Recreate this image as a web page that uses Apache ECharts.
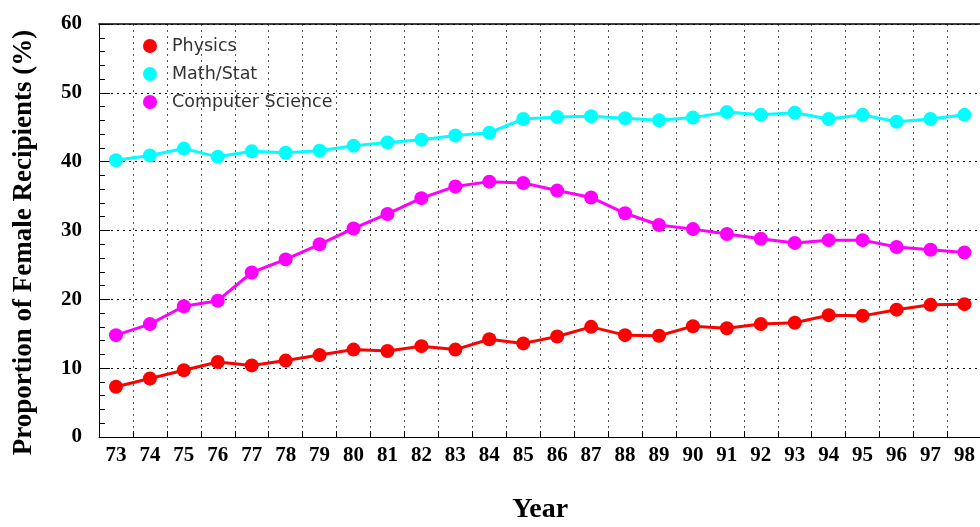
<!DOCTYPE html>
<html>
<head>
<meta charset="utf-8">
<title>Proportion of Female Recipients</title>
<script src="https://cdn.jsdelivr.net/npm/echarts@6/dist/echarts.min.js"></script>
<style>
  html, body { margin: 0; padding: 0; background: #fff; }
  #chart { width: 980px; height: 527px; }
</style>
</head>
<body>
<div id="chart"></div>
<script>
// Academic years (two-digit)
const years = ['73','74','75','76','77','78','79','80','81','82','83','84','85',
               '86','87','88','89','90','91','92','93','94','95','96','97','98'];

// Share of degrees awarded to women, percent
const physics = [7.3, 8.5, 9.7, 10.9, 10.4, 11.1, 11.9, 12.7, 12.5, 13.2, 12.7, 14.2, 13.6,
                 14.6, 16.0, 14.8, 14.7, 16.1, 15.8, 16.4, 16.6, 17.7, 17.6, 18.5, 19.2, 19.3];
const mathStat = [40.2, 40.9, 41.9, 40.7, 41.5, 41.3, 41.6, 42.3, 42.8, 43.2, 43.8, 44.2, 46.2,
                  46.5, 46.6, 46.3, 46.0, 46.4, 47.2, 46.8, 47.1, 46.2, 46.8, 45.8, 46.2, 46.8];
const compSci = [14.8, 16.4, 19.0, 19.8, 23.9, 25.8, 28.0, 30.3, 32.4, 34.7, 36.4, 37.1, 36.9,
                 35.8, 34.8, 32.5, 30.8, 30.2, 29.5, 28.8, 28.2, 28.6, 28.6, 27.6, 27.2, 26.8];

const seriesNames = ['Physics', 'Math/Stat', 'Computer Science'];
const seriesColors = ['#ff0000', '#00ffff', '#ff00ff'];

const serif = '"Liberation Serif", "Times New Roman", serif';

function lineSeries(name, data, color) {
  return {
    name: name,
    type: 'line',
    data: data,
    symbol: 'circle',
    symbolSize: 14,
    itemStyle: { color: color },
    lineStyle: { color: color, width: 3 },
    emphasis: { disabled: true },
    animation: false
  };
}

const chart = echarts.init(document.getElementById('chart'), null, { renderer: 'canvas' });
chart.setOption({
  backgroundColor: '#ffffff',
  animation: false,
  grid: {
    left: 99, top: 24, width: 882.4, height: 413,
    outerBoundsMode: 'none',
    containLabel: false,
    show: false
  },
  legend: {
    orient: 'vertical',
    left: 138, top: 32,
    itemWidth: 14, itemHeight: 14, itemGap: 10,
    icon: 'circle',
    data: seriesNames,
    textStyle: {
      fontFamily: '"DejaVu Sans", sans-serif',
      fontSize: 17.5, color: '#333', padding: [0, 0, 0, 10]
    }
  },
  xAxis: [{
    type: 'category',
    data: years,
    boundaryGap: true,
    name: 'Year',
    nameLocation: 'middle',
    nameGap: 59,
    nameTextStyle: { fontFamily: serif, fontWeight: 'bold', fontSize: 28, color: '#000' },
    axisLine: { show: true, lineStyle: { color: '#000', width: 1 } },
    axisTick: { show: true, inside: true, length: 6, lineStyle: { color: '#000' } },
    axisLabel: { margin: 8, fontFamily: serif, fontWeight: 'bold', fontSize: 21, color: '#000' },
    splitLine: { show: true, lineStyle: { color: '#555', type: [2, 4], width: 1 } }
  }, {
    // top frame line
    type: 'category',
    data: years,
    position: 'top',
    axisLine: { show: true, onZero: false, lineStyle: { color: '#000', width: 1.5 } },
    axisTick: { show: false },
    axisLabel: { show: false },
    splitLine: { show: false }
  }],
  yAxis: {
    type: 'value',
    min: 0, max: 60, interval: 10,
    name: 'Proportion of Female Recipients (%)',
    nameLocation: 'middle',
    nameGap: 61,
    nameTextStyle: {
      fontFamily: serif, fontWeight: 'bold', fontSize: 27, color: '#000',
      padding: [0, 24, 0, 0]
    },
    axisLine: { show: true, lineStyle: { color: '#000', width: 1 } },
    axisTick: { show: true, inside: true, length: 11, lineStyle: { color: '#000' } },
    minorTick: { show: true, splitNumber: 5, length: 6, lineStyle: { color: '#000' } },
    axisLabel: { margin: 17, fontFamily: serif, fontWeight: 'bold', fontSize: 21, color: '#000' },
    splitLine: { show: true, lineStyle: { color: '#000', type: [2, 4], width: 1 } }
  },
  series: [
    lineSeries(seriesNames[0], physics, seriesColors[0]),
    lineSeries(seriesNames[1], mathStat, seriesColors[1]),
    lineSeries(seriesNames[2], compSci, seriesColors[2])
  ]
});
</script>
</body>
</html>
